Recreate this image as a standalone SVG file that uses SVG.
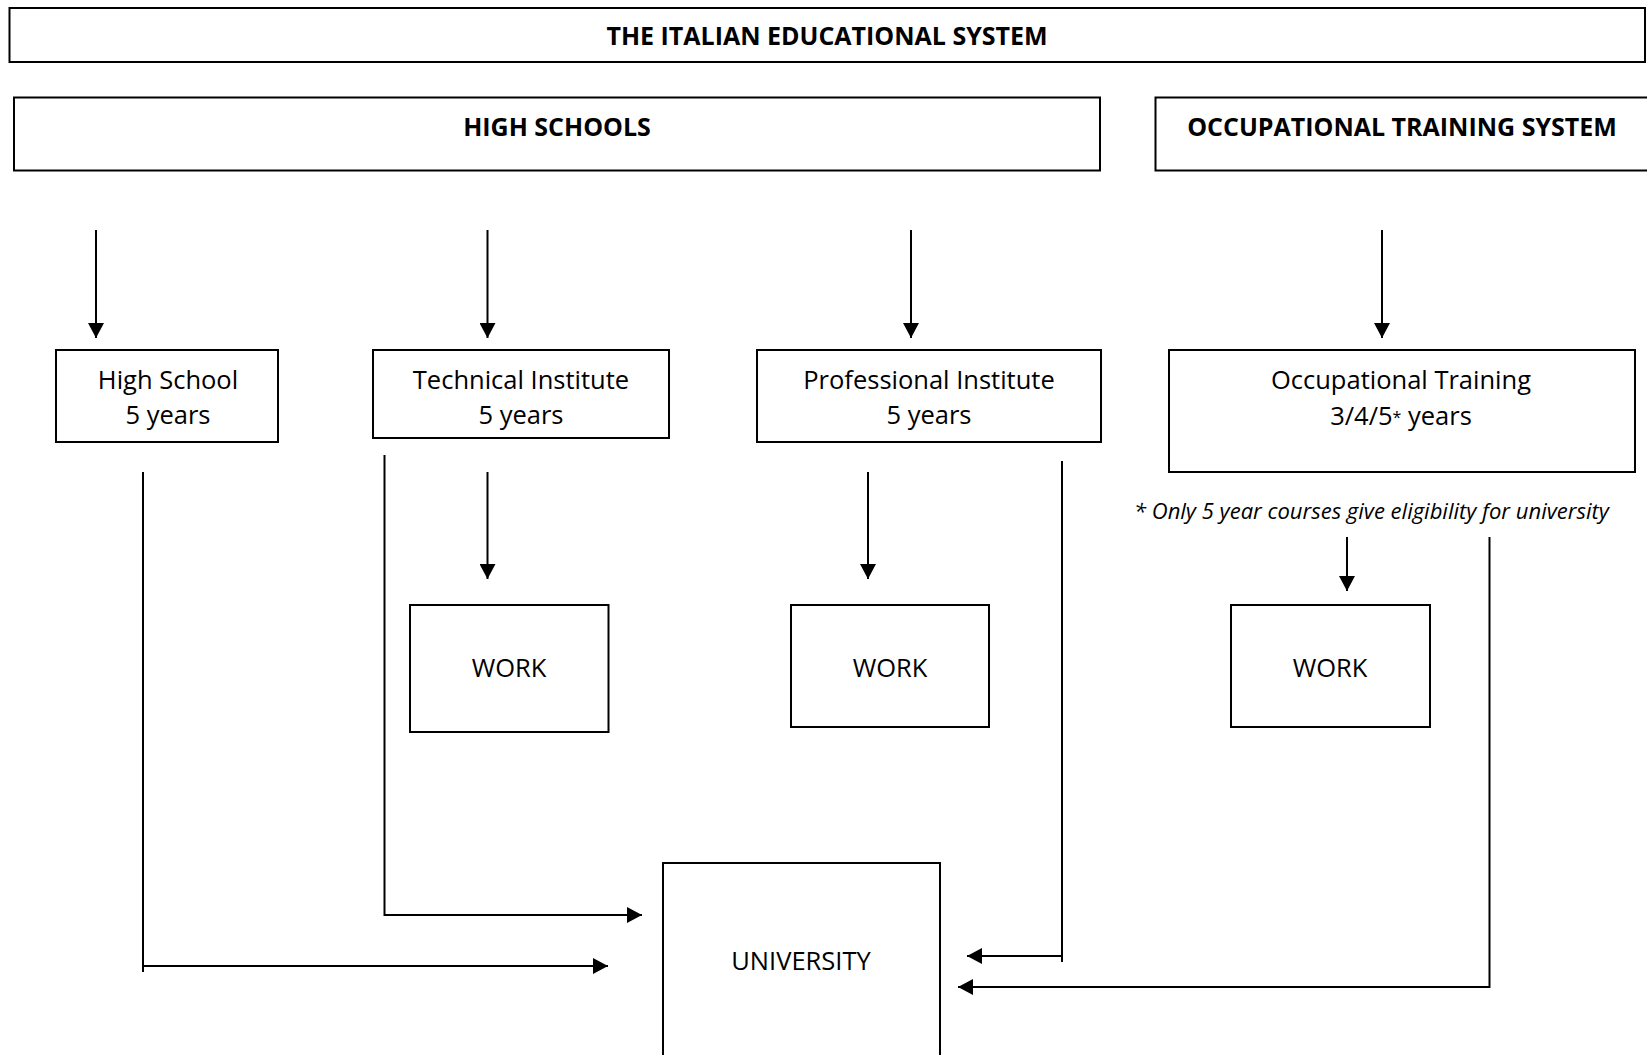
<svg xmlns="http://www.w3.org/2000/svg" width="1647" height="1055" viewBox="0 0 1647 1055">
<style>
  .box { fill: #fff; stroke: #000; stroke-width: 2; }
  .t { font-family: "Open Sans", "Liberation Sans", sans-serif; font-size: 25.5px; fill: #000; text-anchor: middle; }
  .h { font-family: "Open Sans", "Liberation Sans", sans-serif; font-size: 25px; font-weight: bold; fill: #000; text-anchor: middle; }
  .note { font-family: "Open Sans", "Liberation Sans", sans-serif; font-size: 22px; font-style: italic; fill: #000; }
  .c { fill: none; stroke: #000; stroke-width: 2; }
  .a { marker-end: url(#arr); }
</style>
<defs>
  <marker id="arr" markerUnits="userSpaceOnUse" markerWidth="16" markerHeight="16" refX="15" refY="8" orient="auto">
    <path d="M0,0 L15,8 L0,16 Z" fill="#000"/>
  </marker>
</defs>
<rect width="1647" height="1055" fill="#fff"/>

<g id="title">
  <rect class="box" x="9.5" y="8" width="1635.5" height="54"/>
  <text class="h" x="827" y="45">THE ITALIAN EDUCATIONAL SYSTEM</text>
</g>
<g id="high-schools">
  <rect class="box" x="14" y="97.5" width="1086" height="73"/>
  <text class="h" x="557" y="136">HIGH SCHOOLS</text>
</g>
<g id="occupational-training-system">
  <rect class="box" x="1155.5" y="97.5" width="500" height="73"/>
  <text class="h" x="1402" y="136">OCCUPATIONAL TRAINING SYSTEM</text>
</g>
<g id="high-school">
  <rect class="box" x="56" y="350" width="222" height="92"/>
  <text class="t" x="168" y="389">High School</text>
  <text class="t" x="168" y="424">5 years</text>
</g>
<g id="technical-institute">
  <rect class="box" x="373" y="350" width="296" height="88"/>
  <text class="t" x="521" y="389">Technical Institute</text>
  <text class="t" x="521" y="424">5 years</text>
</g>
<g id="professional-institute">
  <rect class="box" x="757" y="350" width="344" height="92"/>
  <text class="t" x="929" y="389">Professional Institute</text>
  <text class="t" x="929" y="424">5 years</text>
</g>
<g id="occupational-training">
  <rect class="box" x="1169" y="350" width="466" height="122"/>
  <text class="t" x="1401" y="389">Occupational Training</text>
  <text class="t" x="1401" y="425">3/4/5<tspan font-size="16" dy="-2">*</tspan><tspan dy="2"> years</tspan></text>
</g>
<g id="footnote">
  <text class="note" x="1134" y="519">* Only 5 year courses give eligibility for university</text>
</g>
<g id="work-1">
  <rect class="box" x="410" y="605" width="198.5" height="127"/>
  <text class="t" x="509" y="677">WORK</text>
</g>
<g id="work-2">
  <rect class="box" x="791" y="605" width="198" height="122"/>
  <text class="t" x="890" y="677">WORK</text>
</g>
<g id="work-3">
  <rect class="box" x="1231" y="605" width="199" height="122"/>
  <text class="t" x="1330" y="677">WORK</text>
</g>
<g id="university">
  <rect class="box" x="663" y="863" width="277" height="220"/>
  <text class="t" x="801" y="970">UNIVERSITY</text>
</g>

<g id="connectors">
  <line class="c a" x1="96" y1="230" x2="96" y2="338"/>
  <line class="c a" x1="487.5" y1="230" x2="487.5" y2="338"/>
  <line class="c a" x1="911" y1="230" x2="911" y2="338"/>
  <line class="c a" x1="1382" y1="230" x2="1382" y2="338"/>

  <line class="c a" x1="487.5" y1="472" x2="487.5" y2="579"/>
  <line class="c a" x1="868" y1="472" x2="868" y2="579"/>
  <line class="c a" x1="1347" y1="537" x2="1347" y2="591"/>

  <line class="c" x1="143" y1="472" x2="143" y2="972"/>
  <line class="c a" x1="143" y1="966" x2="608" y2="966"/>

  <polyline class="c a" points="384.5,455 384.5,915 642,915"/>

  <line class="c" x1="1062" y1="461" x2="1062" y2="962"/>
  <line class="c a" x1="1062" y1="956" x2="967" y2="956"/>

  <polyline class="c a" points="1489.5,537 1489.5,987 958,987"/>
</g>
</svg>
